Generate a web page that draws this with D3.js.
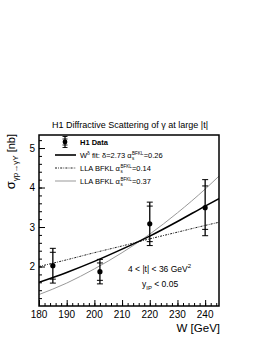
<!DOCTYPE html>
<html>
<head>
<meta charset="utf-8">
<script src="https://cdn.jsdelivr.net/npm/d3@7"></script>
<style>
  body { margin: 0; background: #fff; }
  svg { font-family: "Liberation Sans", Arial, sans-serif; }
  .axis path { display: none; }
  .axis line { stroke: #000; stroke-width: 1; }
</style>
</head>
<body>
<div id="chart"></div>
<script>
// H1 data points
var dataW = [185, 202, 220, 240];
var dataSigma = [2.02, 1.87, 3.08, 3.49];
var statErr = [0.34, 0.22, 0.45, 0.55];
var totErr = [0.44, 0.31, 0.55, 0.71];

// curves
var curveW = [180, 190, 200, 210, 220, 230, 240, 245];
var fitPow = [1.60, 1.85, 2.13, 2.44, 2.77, 3.14, 3.53, 3.72];
var lla014 = [2.00, 2.17, 2.35, 2.52, 2.70, 2.87, 3.04, 3.12];
var lla037 = [1.29, 1.58, 1.94, 2.35, 2.82, 3.36, 3.96, 4.29];

var xTicks = [180, 190, 200, 210, 220, 230, 240];
var yTicks = [2, 3, 4, 5];

var margin = {top: 135, left: 39},
    width = 180,
    height = 171;

var svg = d3.select("#chart").append("svg")
    .attr("width", 266)
    .attr("height", 344);

var g = svg.append("g")
    .attr("transform", "translate(" + margin.left + "," + margin.top + ")");

var x = d3.scaleLinear().domain([180, 245]).range([0, width]);
var y = d3.scaleLinear().domain([1, 5.33]).range([height, 0]);

// title
svg.append("text")
    .attr("x", 130).attr("y", 128)
    .attr("text-anchor", "middle")
    .style("font-size", "9px")
    .text("H1 Diffractive Scattering of \u03b3 at large |t|");

// minor ticks
g.append("g")
    .attr("class", "axis")
    .attr("transform", "translate(0," + height + ")")
    .call(d3.axisTop(x).tickValues(d3.range(180, 245, 2)).tickSize(3).tickFormat(""));
g.append("g")
    .attr("class", "axis")
    .call(d3.axisRight(y).tickValues(d3.range(1.2, 5.3, 0.2)).tickSize(3).tickFormat(""));

// major ticks
g.append("g")
    .attr("class", "axis")
    .attr("transform", "translate(0," + height + ")")
    .call(d3.axisTop(x).tickValues(xTicks).tickSize(6).tickFormat(""));
g.append("g")
    .attr("class", "axis")
    .call(d3.axisRight(y).tickValues(yTicks).tickSize(6).tickFormat(""));

// tick labels
g.selectAll("text.xlab")
    .data(xTicks)
    .enter().append("text")
    .attr("class", "xlab")
    .attr("x", function(d) { return x(d); })
    .attr("y", height + 12)
    .attr("text-anchor", "middle")
    .style("font-size", "10px")
    .text(function(d) { return d; });

g.selectAll("text.ylab")
    .data(yTicks)
    .enter().append("text")
    .attr("class", "ylab")
    .attr("x", -4)
    .attr("y", function(d) { return y(d) + 3.5; })
    .attr("text-anchor", "end")
    .style("font-size", "10px")
    .text(function(d) { return d; });

// curves
function curve(vals) {
    return d3.line()
        .x(function(d, i) { return x(curveW[i]); })
        .y(function(d) { return y(d); })
        .curve(d3.curveMonotoneX)(vals);
}

g.append("clipPath").attr("id", "clip")
    .append("rect").attr("width", width).attr("height", height);

var curves = g.append("g").attr("clip-path", "url(#clip)");

curves.append("path")
    .attr("d", curve(lla037))
    .style("fill", "none")
    .style("stroke", "#999")
    .style("stroke-width", 1);

curves.append("path")
    .attr("d", curve(lla014))
    .style("fill", "none")
    .style("stroke", "#000")
    .style("stroke-width", 0.9)
    .style("stroke-dasharray", "2,1.2,0.8,1.2");

curves.append("path")
    .attr("d", curve(fitPow))
    .style("fill", "none")
    .style("stroke", "#000")
    .style("stroke-width", 1.6);

// error bars
var pts = g.selectAll("g.pt")
    .data(dataW)
    .enter().append("g")
    .attr("class", "pt");

pts.append("line")
    .attr("x1", function(d) { return x(d); })
    .attr("x2", function(d) { return x(d); })
    .attr("y1", function(d, i) { return y(dataSigma[i] + totErr[i]); })
    .attr("y2", function(d, i) { return y(dataSigma[i] - totErr[i]); })
    .style("stroke", "#000")
    .style("stroke-width", 1.3);

[statErr, totErr].forEach(function(err) {
    [1, -1].forEach(function(sgn) {
        pts.append("line")
            .attr("x1", function(d) { return x(d) - 3; })
            .attr("x2", function(d) { return x(d) + 3; })
            .attr("y1", function(d, i) { return y(dataSigma[i] + sgn * err[i]); })
            .attr("y2", function(d, i) { return y(dataSigma[i] + sgn * err[i]); })
            .style("stroke", "#000")
            .style("stroke-width", 1);
    });
});

pts.append("circle")
    .attr("cx", function(d) { return x(d); })
    .attr("cy", function(d, i) { return y(dataSigma[i]); })
    .attr("r", 2.6)
    .style("fill", "#000");

// frame
g.append("rect")
    .attr("width", width)
    .attr("height", height)
    .style("fill", "none")
    .style("stroke", "#000")
    .style("stroke-width", 1.5);

// legend
var lg = g.append("g").attr("transform", "translate(16,7)");
lg.append("line").attr("x1", 10).attr("x2", 10).attr("y1", -6).attr("y2", 6)
    .style("stroke", "#000").style("stroke-width", 1.2);
[-5.5, -3, 3, 5.5].forEach(function(d) {
    lg.append("line").attr("x1", 7.5).attr("x2", 12.5).attr("y1", d).attr("y2", d)
        .style("stroke", "#000").style("stroke-width", 0.9);
});
lg.append("circle").attr("cx", 10).attr("cy", 0).attr("r", 2.4).style("fill", "#000");
lg.append("text").attr("x", 25).attr("y", 3).style("font-size", "7.5px").style("font-weight", "bold").text("H1 Data");

var rows = [
    {y: 13, dash: null, color: "#000", w: 1.6, pre: "W", sup: "\u03b4", mid: " fit: \u03b4=2.73 \u03b1", val: "0.26"},
    {y: 26, dash: "2,1.2,0.8,1.2", color: "#000", w: 0.9, pre: "LLA BFKL \u03b1", sup: null, mid: "", val: "0.14"},
    {y: 39, dash: null, color: "#999", w: 1, pre: "LLA BFKL \u03b1", sup: null, mid: "", val: "0.37"}
];
rows.forEach(function(r) {
    lg.append("line").attr("x1", 0).attr("x2", 21).attr("y1", r.y).attr("y2", r.y)
        .style("stroke", r.color).style("stroke-width", r.w)
        .style("stroke-dasharray", r.dash);
    var t = lg.append("text").attr("x", 25).attr("y", r.y + 3).style("font-size", "7.5px");
    t.append("tspan").text(r.pre);
    if (r.sup) {
        t.append("tspan").attr("dy", -3).style("font-size", "5px").text(r.sup);
        t.append("tspan").attr("dy", 3).text(r.mid);
    }
    var xa = 25 + t.node().getComputedTextLength() + 0.5;
    var sup = lg.append("text").attr("x", xa).attr("y", r.y).style("font-size", "4.5px").text("BFKL");
    lg.append("text").attr("x", xa).attr("y", r.y + 5).style("font-size", "4.5px").text("s");
    var xb = xa + sup.node().getComputedTextLength() + 0.3;
    lg.append("text").attr("x", xb).attr("y", r.y + 3).style("font-size", "7.5px").text("=" + r.val);
});

// annotations
var ann = g.append("text").attr("x", 89).attr("y", 137).style("font-size", "8.5px");
ann.append("tspan").text("4 < |t| < 36 GeV");
ann.append("tspan").attr("dy", -4).style("font-size", "6px").text("2");

var ann2 = g.append("text").attr("x", 103).attr("y", 152).style("font-size", "8.5px");
ann2.append("tspan").text("y");
ann2.append("tspan").attr("dy", 3).style("font-size", "6px").text("IP");
ann2.append("tspan").attr("dy", -3).text(" < 0.05");

// axis titles
svg.append("text")
    .attr("x", 220).attr("y", 332)
    .attr("text-anchor", "end")
    .style("font-size", "11.5px")
    .text("W [GeV]");

var yt = svg.append("text")
    .attr("transform", "translate(15,134) rotate(-90)")
    .attr("text-anchor", "end")
    .style("font-size", "11px");
yt.append("tspan").style("font-size", "13px").text("\u03c3");
yt.append("tspan").attr("dy", 3).style("font-size", "8px").text("\u03b3p\u2192\u03b3Y");
yt.append("tspan").attr("dy", -3).text(" [nb]");
</script>
</body>
</html>
